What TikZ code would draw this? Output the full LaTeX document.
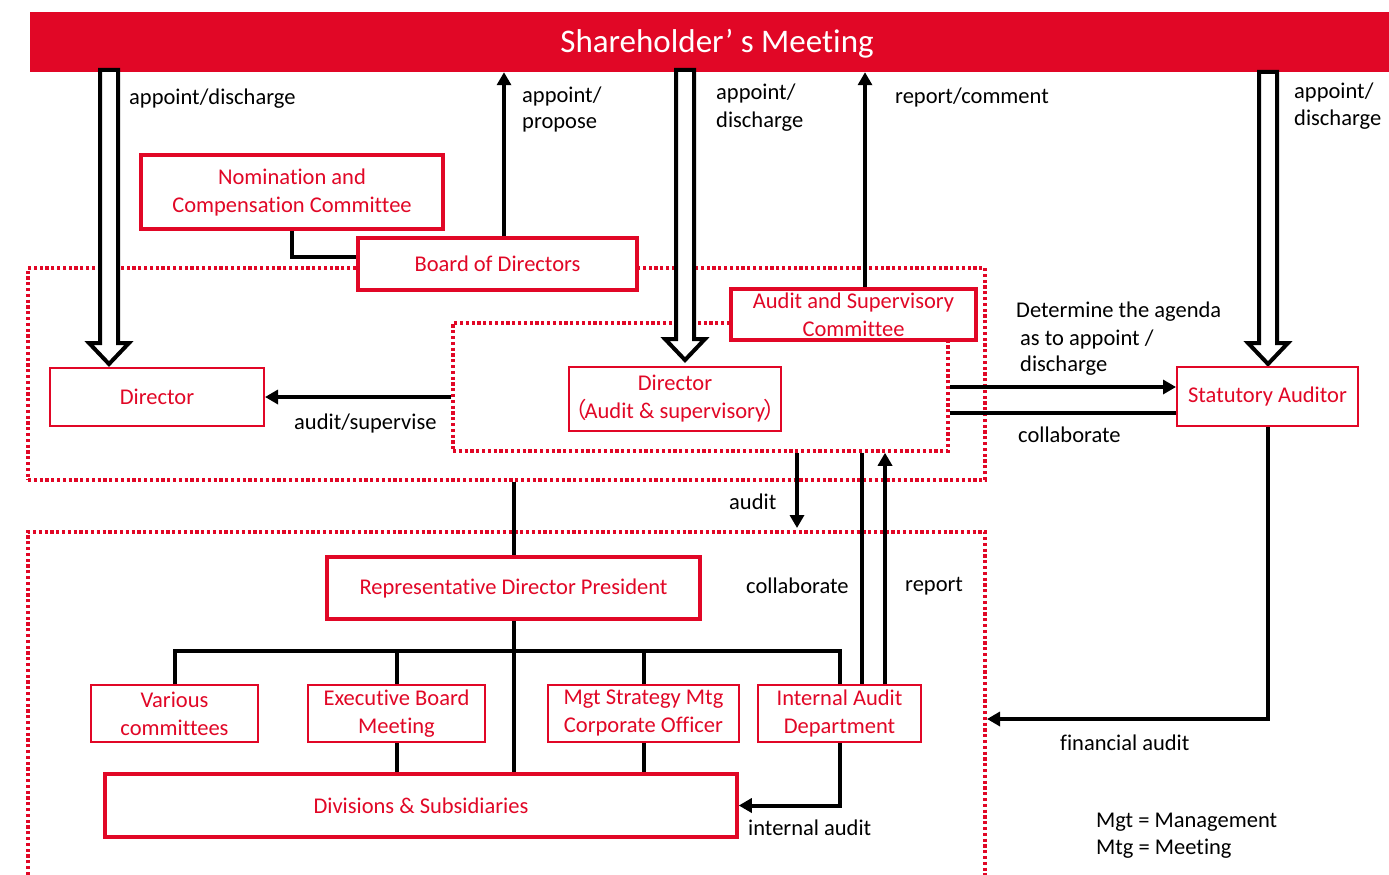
\documentclass[tikz,border=0pt]{standalone}
\usepackage{fontspec}
\setmainfont{Carlito}[Ligatures=NoCommon]
\newfontfamily\cjkfont{Noto Sans CJK JP}
\usetikzlibrary{arrows.meta,calc}
\definecolor{jred}{RGB}{225,7,38}
\newcommand\hollowarrow[2]{\draw[hollow] let \p1=(#1), \p2=(#2) in (\x1-9pt,\y1) -- (\x1-9pt,\y2+21pt) -- (\x1-20pt,\y2+21pt) -- (\x1,\y2) -- (\x1+20pt,\y2+21pt) -- (\x1+9pt,\y2+21pt) -- (\x1+9pt,\y1) -- cycle;}
\begin{document}
\begin{tikzpicture}[x=1pt,y=-1pt,
  every node/.style={font=\fontsize{22.5}{28}\selectfont},
  rbox/.style={draw=jred,fill=white,text=jred,line width=2pt,align=center,inner sep=0pt},
  rthick/.style={rbox,line width=3.5pt},
  dotbox/.style={draw=jred,line width=3.5pt,dash pattern=on 3.2pt off 2.6pt,inner sep=0pt},
  conn/.style={draw=black,line width=4pt},
  arr/.style={conn,-{Triangle[length=13pt,width=14pt]}},
  lbl/.style={anchor=west,inner sep=0pt,text=black},
  hollow/.style={draw=black,fill=white,line width=4pt,line join=miter}]

\useasboundingbox (0,0) rectangle (1389,875);

% Shareholder's meeting bar
\node (shm) [fill=jred, minimum width=1359pt, minimum height=60pt, inner sep=0pt] at (709.5,42) {};
\node (shmt) [text=white, inner sep=0pt, font=\fontsize{33}{38}\selectfont] at (717,44) {Shareholder’ s Meeting};

% dotted groups
\node (outer) [dotbox, minimum width=957pt, minimum height=212pt] at (506.5,374) {};
\node (inner) [dotbox, minimum width=495pt, minimum height=128pt] at (700.5,387) {};
\draw[dotbox] (28,875) -- (28,532) -- (985,532) -- (985,875);
\coordinate (lowtop) at (797,532);

% hollow arrows
\coordinate (hla) at (109,70); \coordinate (hlb) at (109,364);
\coordinate (hma) at (685,70); \coordinate (hmb) at (685,360);
\coordinate (hra) at (1268,72); \coordinate (hrb) at (1268,364);
\hollowarrow{hla}{hlb}
\hollowarrow{hma}{hmb}
\hollowarrow{hra}{hrb}

% boxes
\node (nom) [rthick, minimum width=302pt, minimum height=74pt] at (292,192) {Nomination and\\Compensation Committee};
\node (bod) [rthick, minimum width=279pt, minimum height=52pt] at (497.5,264) {Board of Directors};
\node (dir) [rbox, minimum width=214pt, minimum height=58pt] at (157,397) {Director};
\node (dirAS) [rbox, minimum width=212pt, minimum height=64pt] at (675,399) {Director\\\kern-12pt{\cjkfont （}\kern-2pt Audit \& supervisory\kern-2pt{\cjkfont ）}\kern-12pt};
\node (asc) [rthick, minimum width=245pt, minimum height=51pt] at (853.5,314.5) {Audit and Supervisory\\Committee};
\node (sa) [rbox, minimum width=181pt, minimum height=59pt] at (1267.5,396.5) {Statutory Auditor};
\node (rdp) [rthick, minimum width=373pt, minimum height=62pt] at (513.5,588) {Representative Director President};
\node (vc) [rbox, minimum width=167pt, minimum height=57pt] at (174.5,713.5) {Various\\committees};
\node (ebm) [rbox, minimum width=177pt, minimum height=57pt] at (396.5,713.5) {Executive Board\\Meeting};
\node (msm) [rbox, minimum width=191pt, minimum height=57pt] at (643.5,713.5) {Mgt Strategy Mtg\\Corporate Officer};
\node (ia) [rbox, minimum width=163pt, minimum height=57pt] at (839.5,713.5) {Internal Audit\\Department};
\node (div) [rthick, minimum width=632pt, minimum height=63pt] at (421,805.5) {Divisions \& Subsidiaries};

% connectors
\draw[conn] (nom.south) |- ([yshift=7pt]bod.west);
\draw[arr] ([xshift=6.5pt]bod.north) -- ([xshift=6.5pt]bod.north |- shm.south);
\coordinate (rc) at (865,0);
\draw[arr] (asc.north -| rc) -- (shm.south -| rc);
\draw[arr] (inner.west |- dir.east) -- (dir.east);
\coordinate (sa1) at ([yshift=9.5pt]sa.west);
\coordinate (sa2) at ([yshift=-16.5pt]sa.west);
\draw[arr] (inner.east |- sa1) -- (sa1);
\draw[conn] (inner.east |- sa2) -- (sa2);
\draw[arr] (inner.south -| lowtop) -- ([yshift=4pt]lowtop);
\coordinate (cl) at (862,0);
\draw[conn] (inner.south -| cl) -- (ia.north -| cl);
\coordinate (rp) at (885,0);
\draw[arr] (ia.north -| rp) -- (inner.south -| rp);
\draw[conn] (outer.south -| rdp.north) -- (rdp.north);
\coordinate (bus) at (514,651);
\draw[conn] (vc.north) |- (bus) -| (ia.north);
\draw[conn] (ebm.north) -- (ebm.north |- bus);
\draw[conn] (msm.north) -- (msm.north |- bus);
\draw[conn] (rdp.south) -- (rdp.south |- div.north);
\draw[conn] (ebm.south) -- (ebm.south |- div.north);
\draw[conn] (msm.south) -- (msm.south |- div.north);
\draw[arr] (ia.south) |- (div.east);
\coordinate (fa) at (987,719);
\draw[arr] (sa.south) |- (fa);

% labels
\node[lbl] (l1) at (129,99) {appoint/discharge};
\node[lbl] (l2a) at (522,97) {appoint/};
\node[lbl] (l2b) at (522,125) {propose};
\node[lbl] (l3a) at (716,94) {appoint/};
\node[lbl] (l3b) at (716,122) {discharge};
\node[lbl] (l4) at (895,98) {report/comment};
\node[lbl] (l5a) at (1294,93) {appoint/};
\node[lbl] (l5b) at (1294,120) {discharge};
\node[lbl] (l6) at (294,423) {audit/supervise};
\node[lbl] (l7a) at (1016,312) {Determine the agenda};
\node[lbl] (l7b) at (1020,339) {as to appoint /};
\node[lbl] (l7c) at (1020,366) {discharge};
\node[lbl] (l8) at (1018,435) {collaborate};
\node[lbl] (l9) at (729,502) {audit};
\node[lbl] (l10) at (746,586) {collaborate};
\node[lbl] (l11) at (905,586) {report};
\node[lbl] (l12) at (1060,743) {financial audit};
\node[lbl] (l13) at (748,828) {internal audit};
\node[lbl] (l14) at (1096,822) {Mgt = Management};
\node[lbl] (l15) at (1096,849) {Mtg = Meeting};
\end{tikzpicture}
\end{document}
